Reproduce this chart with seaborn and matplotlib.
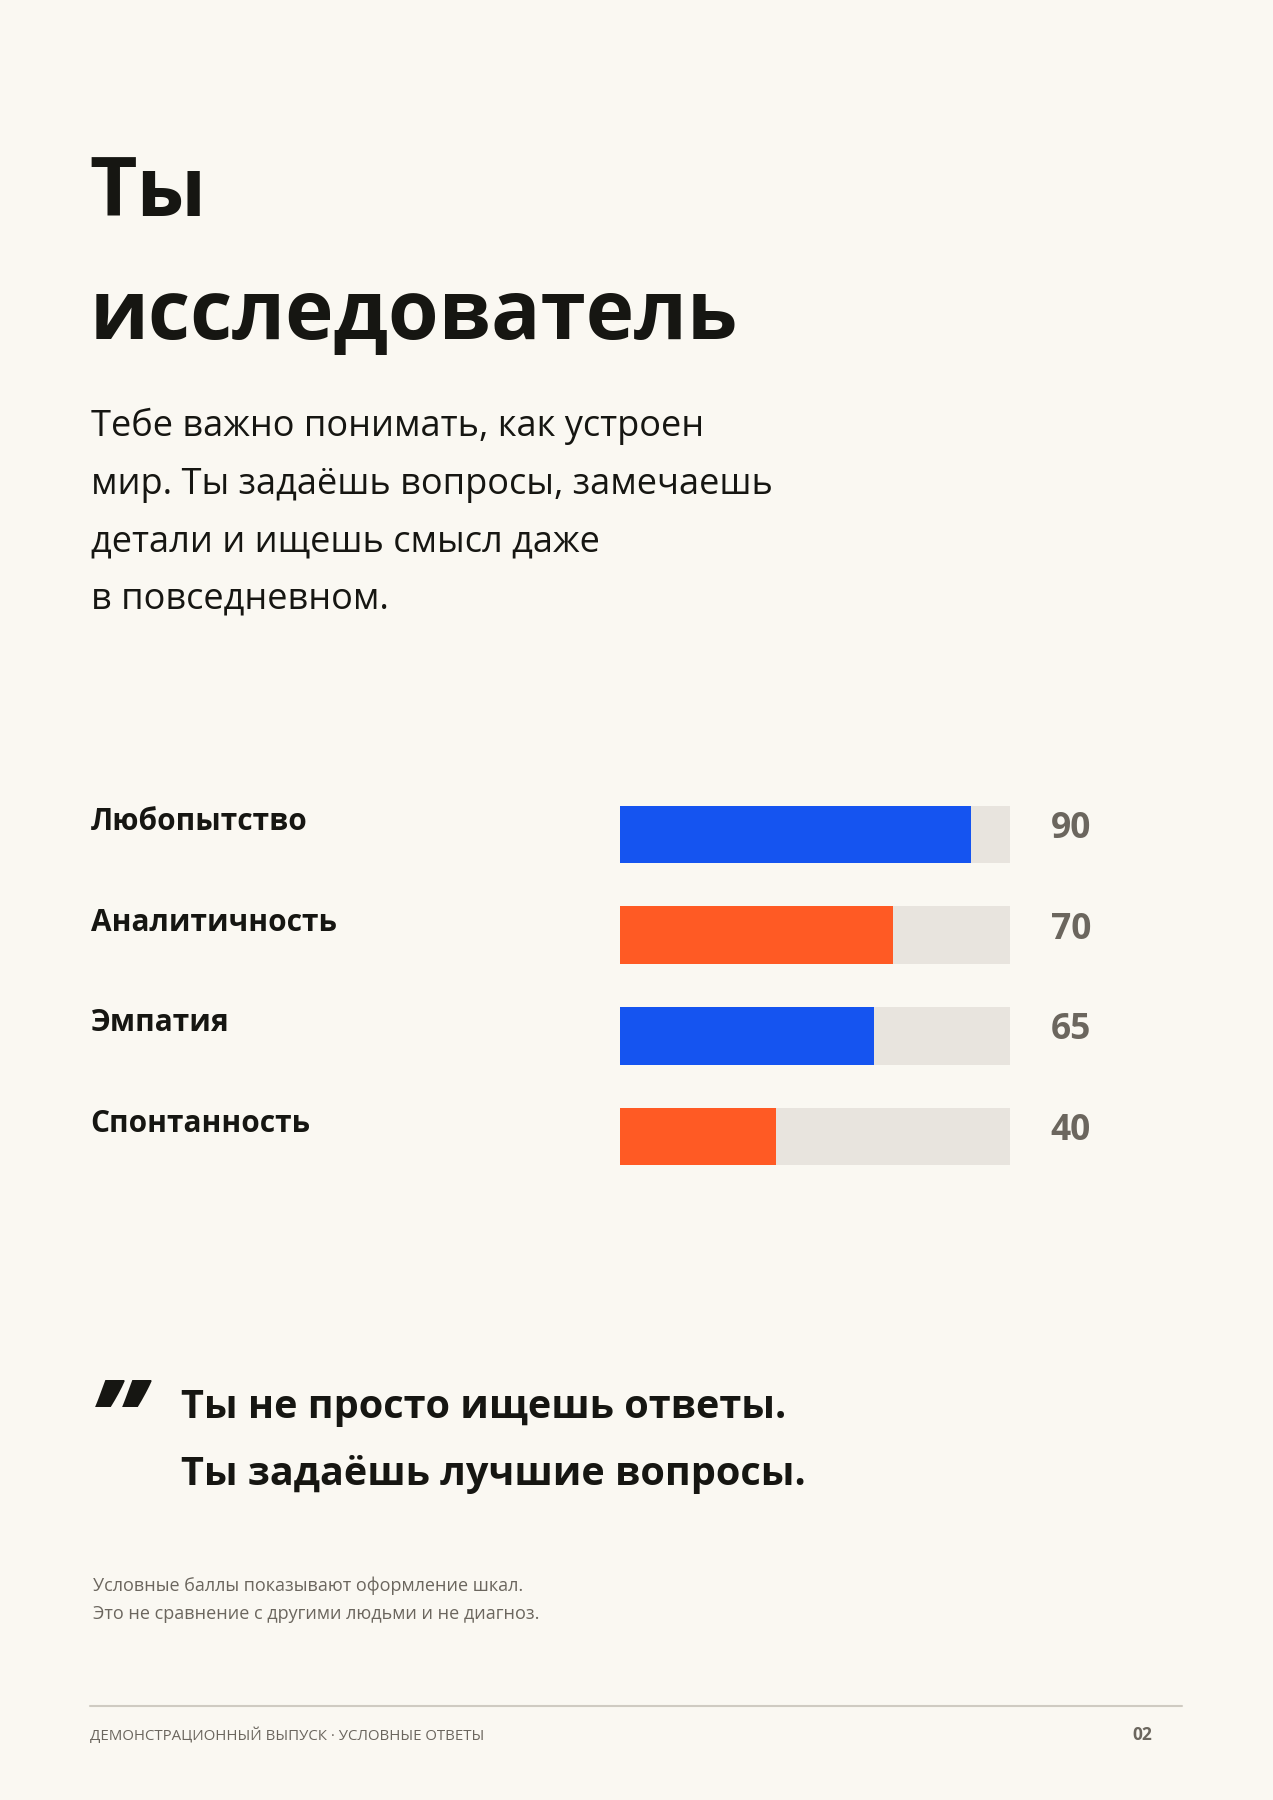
import matplotlib
matplotlib.use("Agg")
import matplotlib.pyplot as plt
import seaborn as sns
import pandas as pd

categories = ["Любопытство", "Аналитичность", "Эмпатия", "Спонтанность"]
values = [90, 70, 65, 40]
bar_colors = ["#1554f0", "#ff5a24", "#1554f0", "#ff5a24"]
max_value = 100

BG = "#faf8f2"; INK = "#161612"; GRAY = "#6b665e"; TRACK = "#e8e4de"

sns.set_theme(style="white")
plt.rcParams["font.family"] = ["Open Sans", "Noto Sans", "DejaVu Sans"]

W, H = 1273, 1800
fig = plt.figure(figsize=(W/100, H/100), dpi=100, facecolor=BG)
D = 1568.0
def fy(y): return 1 - y / D
def fx(x): return x / 1109.0

# title
fig.text(fx(78), fy(188), "Ты", fontsize=59, fontweight="bold", color=INK, va="baseline")
fig.text(fx(78), fy(295), "исследователь", fontsize=59, fontweight="bold", color=INK, va="baseline")

body = ["Тебе важно понимать, как устроен",
        "мир. Ты задаёшь вопросы, замечаешь",
        "детали и ищешь смысл даже",
        "в повседневном."]
for i, line in enumerate(body):
    fig.text(fx(79), fy(380 + 50 * i), line, fontsize=26, color=INK, va="baseline")

# bars
df = pd.DataFrame({"cat": categories, "val": values, "track": [max_value] * len(values)})
top, bot = fy(683), fy(1034)
ax = fig.add_axes([fx(540), bot, fx(880) - fx(540), top - bot])
ax.set_facecolor("none")
sns.barplot(data=df, x="track", y="cat", color=TRACK, width=0.57, ax=ax, saturation=1, linewidth=0)
sns.barplot(data=df, x="val", y="cat", hue="cat", palette=bar_colors, width=0.57,
            ax=ax, legend=False, saturation=1, linewidth=0)
ax.set_xlim(0, max_value)
ax.set_ylim(3.5, -0.5)
ax.axis("off")

row_y = [713, 801, 888, 976]
for i, (c, v) in enumerate(zip(categories, values)):
    fig.text(fx(79), fy(row_y[i] + 10), c, fontsize=21.5, fontweight="bold", color=INK, va="baseline")
    fig.text(fx(933), fy(row_y[i] + 17), str(v), fontsize=25.5, fontweight="bold", color=GRAY,
             va="baseline", ha="center")

# quote
fig.text(fx(78), fy(1272), "\u201d", fontsize=80, fontweight="heavy", fontstyle="italic",
         color=INK, va="baseline")
fig.text(fx(158), fy(1235), "Ты не просто ищешь ответы.", fontsize=28.5, fontweight="bold",
         color=INK, va="baseline")
fig.text(fx(158), fy(1294), "Ты задаёшь лучшие вопросы.", fontsize=28.5, fontweight="bold",
         color=INK, va="baseline")

fig.text(fx(81), fy(1386), "Условные баллы показывают оформление шкал.", fontsize=13,
         color=GRAY, va="baseline")
fig.text(fx(81), fy(1410), "Это не сравнение с другими людьми и не диагноз.", fontsize=13,
         color=GRAY, va="baseline")

fig.add_artist(plt.Line2D([fx(78), fx(1030)], [fy(1486), fy(1486)], color="#cfcbc2", lw=1.5))
fig.text(fx(78), fy(1516), "ДЕМОНСТРАЦИОННЫЙ ВЫПУСК · УСЛОВНЫЕ ОТВЕТЫ", fontsize=10.8,
         color=GRAY, va="baseline")
fig.text(fx(1004), fy(1516), "02", fontsize=12.5, fontweight="bold", color=GRAY,
         va="baseline", ha="right")

fig.savefig("out.png", dpi=100, facecolor=BG)
